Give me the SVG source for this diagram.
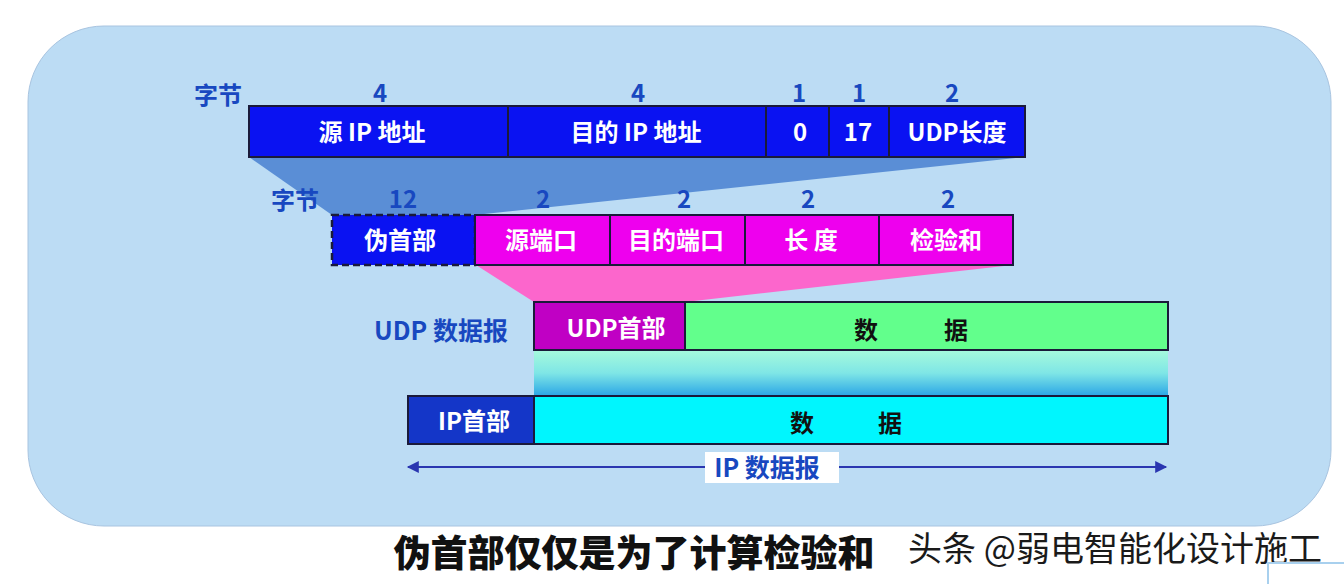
<svg xmlns="http://www.w3.org/2000/svg" width="1344" height="584" viewBox="0 0 1344 584">
<defs>
<linearGradient id="band" x1="0" y1="0" x2="0" y2="1">
<stop offset="0" stop-color="#a6fadc"/>
<stop offset="0.5" stop-color="#7fe6e6"/>
<stop offset="1" stop-color="#2aa6e6"/>
</linearGradient>
<marker id="ah" viewBox="0 0 10 10" refX="9" refY="5" markerWidth="24" markerHeight="12" markerUnits="userSpaceOnUse" orient="auto-start-reverse">
<path d="M0,0 L10,5 L0,10 z" fill="#2a36b0"/>
</marker>
<style>
.lbl{font-family:"Noto Sans CJK SC","Noto Sans",sans-serif;font-weight:bold;fill:#1848c0;font-size:24px;text-anchor:middle}
.wt{font-family:"Noto Sans CJK SC","Noto Sans",sans-serif;font-weight:bold;fill:#ffffff;font-size:24px;text-anchor:middle}
.bk{font-family:"Noto Sans CJK SC","Noto Sans",sans-serif;font-weight:bold;fill:#111111;font-size:24px;text-anchor:middle}
.cell{stroke:#1a1a3a;stroke-width:2}
.blue{fill:#0a12f2}
.mag{fill:#ee00ee}
</style>
</defs>
<rect width="1344" height="584" fill="#ffffff"/>
<rect x="28" y="26" width="1303" height="500" rx="76" ry="76" fill="#bcdcf4" stroke="#a8c4e0" stroke-width="1"/>

<g id="connectors">
<polygon points="249,157 1025,157 475,215 332,215" fill="#5a8ed6"/>
<polygon points="476,265 1013,265 685,302 534,302" fill="#fc66cc"/>
<rect x="534" y="350" width="634" height="46" fill="url(#band)"/>
<line x1="408" y1="467" x2="1166" y2="467" stroke="#2a36b0" stroke-width="2" marker-start="url(#ah)" marker-end="url(#ah)"/>
</g>

<g id="labels">
<text class="lbl" x="218" y="104">字节</text>
<text class="lbl" x="380" y="102">4</text>
<text class="lbl" x="638" y="102">4</text>
<text class="lbl" x="799" y="102">1</text>
<text class="lbl" x="859" y="102">1</text>
<text class="lbl" x="952" y="102">2</text>
<text class="lbl" x="295" y="209">字节</text>
<text class="lbl" x="403" y="208">12</text>
<text class="lbl" x="543" y="208">2</text>
<text class="lbl" x="684" y="208">2</text>
<text class="lbl" x="808" y="208">2</text>
<text class="lbl" x="948" y="208">2</text>
<text class="lbl" x="441" y="340" style="font-size:25px">UDP 数据报</text>
</g>

<g id="ip-pseudo-header">
<rect class="cell blue" x="249" y="106" width="259" height="51"/>
<rect class="cell blue" x="508" y="106" width="258" height="51"/>
<rect class="cell blue" x="766" y="106" width="63" height="51"/>
<rect class="cell blue" x="829" y="106" width="60" height="51"/>
<rect class="cell blue" x="889" y="106" width="136" height="51"/>
<text class="wt" x="372" y="141">源 IP 地址</text>
<text class="wt" x="636" y="141">目的 IP 地址</text>
<text class="wt" x="800" y="141">0</text>
<text class="wt" x="858" y="141">17</text>
<text class="wt" x="957" y="141">UDP长度</text>
</g>

<g id="pseudo-header">
<rect x="332" y="215" width="143" height="50" fill="#0a12f2" stroke="#1a1a3a" stroke-width="2.5" stroke-dasharray="7,4"/>
<text class="wt" x="400" y="249">伪首部</text>
</g>

<g id="udp-header">
<rect class="cell mag" x="475" y="215" width="135" height="50"/>
<rect class="cell mag" x="610" y="215" width="135" height="50"/>
<rect class="cell mag" x="745" y="215" width="134" height="50"/>
<rect class="cell mag" x="879" y="215" width="134" height="50"/>
<text class="wt" x="541" y="249">源端口</text>
<text class="wt" x="676" y="249">目的端口</text>
<text class="wt" x="811" y="249">长  度</text>
<text class="wt" x="946" y="249">检验和</text>
</g>

<g id="udp-datagram">
<rect class="cell" x="534" y="302" width="151" height="48" fill="#c000c4"/>
<rect class="cell" x="685" y="302" width="483" height="48" fill="#62ff8c"/>
<text class="wt" x="616" y="337">UDP首部</text>
<text class="bk" x="866" y="339">数</text>
<text class="bk" x="956" y="339">据</text>
</g>

<g id="ip-datagram">
<rect class="cell" x="408" y="396" width="126" height="48" fill="#1436c8"/>
<rect class="cell" x="534" y="396" width="634" height="48" fill="#00f6fe"/>
<text class="wt" x="474" y="430">IP首部</text>
<text class="bk" x="802" y="432">数</text>
<text class="bk" x="890" y="432">据</text>
</g>

<g id="ip-label">
<rect x="705" y="452" width="134" height="31" fill="#ffffff"/>
<text class="lbl" x="767" y="477" style="font-size:25px">IP 数据报</text>
</g>

<text x="634" y="567" font-family="'Noto Sans CJK SC','Noto Sans',sans-serif" font-weight="900" font-size="37" fill="#111111" text-anchor="middle">伪首部仅仅是为了计算检验和</text>
<text x="1115" y="561" font-family="'Noto Sans CJK SC','Noto Sans',sans-serif" font-size="34" fill="#1a1a1a" text-anchor="middle">头条 @弱电智能化设计施工</text>
<rect x="1268" y="563" width="80" height="30" fill="none" stroke="#a8d0ee" stroke-width="2"/>
</svg>
